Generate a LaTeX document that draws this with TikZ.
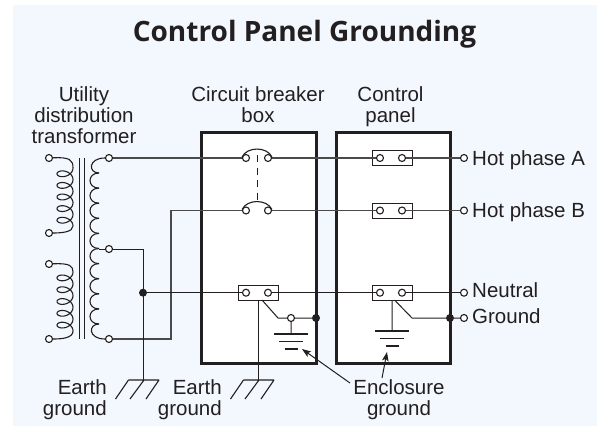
\documentclass[tikz,border=0pt]{standalone}
\usepackage{fontspec}
\setmainfont{Liberation Sans}
\newfontfamily\titlefont{Open Sans}
\usepackage{tikz}
\usetikzlibrary{arrows.meta}
\definecolor{ink}{HTML}{231F20}
\definecolor{wirecol}{HTML}{4A4A4A}
\definecolor{panelbg}{HTML}{F2F8FD}
\begin{document}
\begin{tikzpicture}[x=1pt,y=-1pt,line cap=butt,
    box/.style={draw=ink,fill=white,line width=3pt,inner sep=0pt},
    strip/.style={draw=ink,fill=white,line width=1pt,inner sep=0pt,minimum width=40pt,minimum height=15pt},
    term/.style={circle,draw=ink,fill=white,line width=1.1pt,inner sep=0pt,minimum size=7pt},
    dot/.style={circle,fill=ink,inner sep=0pt,minimum size=8pt},
    wire/.style={draw=wirecol,line width=1.3pt},
    thin wire/.style={draw=ink,line width=1pt},
    lbl/.style={font=\fontsize{20.5}{21}\selectfont,text=ink,inner sep=0pt,align=center}]
  \useasboundingbox (0,0) rectangle (605,426);
  \fill[panelbg] (13,5) rectangle (597,426);
  \node[font=\titlefont\bfseries\fontsize{28}{30}\selectfont,text=ink,inner sep=0pt,anchor=base](title)at(304.5,41.7){Control Panel Grounding};
  \node[lbl](utilLbl)at(84,115.5){Utility\\distribution\\transformer};
  \node[lbl](brkLbl)at(258,105){Circuit breaker\\box};
  \node[lbl](panLbl)at(390.5,107){Control\\panel};
  \node[lbl,align=right,anchor=east](earthLblA)at(107,400){Earth\\ground};
  \node[lbl,align=right,anchor=east](earthLblB)at(222,400){Earth\\ground};
  \node[lbl](encLbl)at(399,400){Enclosure\\ground};
  \node[box,minimum width=115pt,minimum height=231pt](brk)at(258.5,247.5){};
  \node[box,minimum width=114pt,minimum height=231pt](pan)at(393,247.5){};
  % transformer
  \draw[ink,line width=1pt] (79.5,158) -- (79.5,339) (84.5,158) -- (84.5,339);
  \foreach \n/\y in {tPa/158,tPb/233,tPc/264,tPd/339}
    \node[term](\n)at(49,\y){};
  \foreach \n/\y in {tSa/158,tSb/249,tSc/339}
    \node[term](\n)at(109,\y){};
  \draw[ink,line width=1.1pt] (tPa) .. controls (70,157) and (73,160) .. (73,168)
    -- plot[smooth,domain=0:1800,samples=140] ({65+8*cos(\x)},{168+0.03222*\x+5.5*sin(\x)})
    .. controls (73,232) and (62,233) .. (tPb);
  \draw[ink,line width=1.1pt] (tPc) .. controls (70,263) and (73,266) .. (73,272)
    -- plot[smooth,domain=0:1800,samples=140] ({65+8*cos(\x)},{272+0.03278*\x+5.5*sin(\x)})
    .. controls (73,338) and (62,339) .. (tPd);
  \draw[ink,line width=1.1pt] (tSa) .. controls (88,158) and (88,173) .. (99,173);
  \foreach \k in {0,...,9}
    \draw[ink,line width=1.1pt] (99,173+15.1*\k) .. controls (87,173+15.1*\k) and (87,188.1+15.1*\k) .. (99,188.1+15.1*\k);
  \draw[ink,line width=1.1pt] (99,324) .. controls (88,324) and (88,339) .. (tSc);
  \coordinate(tapS)at(99,249);
  \draw[ink,line width=1pt] (tapS) -- (tSb);
  % breakers and strips
  \foreach \n/\y in {A/158,B/210.5}{
    \node[term](brk\n l)at(246,\y){};
    \node[term](brk\n r)at(268,\y){};
    \draw[ink,line width=1.1pt] (brk\n l.165) to[out=65,in=115] (brk\n r.15);
    \node[strip](pan\n)at(392,\y){};
    \node[term](pan\n l)at(380,\y){};
    \node[term](pan\n r)at(402,\y){};
    \node[term](hot\n)at(464,\y){};
  }
  \node[strip](brkN)at(258,292.7){};
  \node[term](brkNl)at(246,292.7){};
  \node[term](brkNr)at(268,292.7){};
  \node[strip](panN)at(392,292.7){};
  \node[term](panNl)at(380,292.7){};
  \node[term](panNr)at(402,292.7){};
  \node[term](hotN)at(464,292.7){};
  \node[term](gndT)at(464,318){};
  \node[term](encT)at(291,318){};
  \node[dot](jn)at(143,292.7){};
  \node[dot](dotA)at(316,318){};
  \node[dot](dotB)at(450,318){};
  \coordinate(armA)at(257,155);
  \coordinate(armB)at(257,202);
  \draw[ink,line width=1pt,dash pattern=on 7pt off 5.5pt] (armA) -- (armB);
  % wires
  \draw[wire] (tSa) -- (brkAl) (brkAr) -- (panAl) (panAr) -- (hotA);
  \coordinate(rise)at(171,210.5);
  \draw[wire] (tSc) -| (rise) -- (brkBl) (brkBr) -- (panBl) (panBr) -- (hotB);
  \coordinate(earthA)at(143,380);
  \coordinate(earthB)at(258,380);
  \draw[thin wire] (tSb) -| (earthA);
  \draw[thin wire] (jn) -- (brkNl) (brkNr) -- (panNl) (panNr) -- (hotN);
  \draw[thin wire] (brkN.south) -- (earthB);
  \coordinate(encA)at(291,334);
  \coordinate(encB)at(392,331);
  \coordinate(kneeA)at(262,300);
  \coordinate(bendA)at(278,318);
  \coordinate(kneeB)at(394.5,300);
  \coordinate(bendB)at(412,318);
  \draw[thin wire] (kneeA) -- (bendA) -- (encT) (encT) -- (dotA) (encT) -- (encA);
  \draw[thin wire] (panN.south) -- (encB) (kneeB) -- (bendB) -- (dotB) -- (gndT);
  % grounds
  \foreach \n in {earthA,earthB}
    \draw[shift={(\n)},ink,line width=1.1pt] (-14.5,0) -- (16,0) (-14.5,0) -- (-27.5,19) (1,0) -- (-13,19) (16,0) -- (3,19);
  \foreach \n in {encA,encB}
    \draw[shift={(\n)},ink,line width=1.1pt] (-17,0) -- (17,0) (-12,7.5) -- (12,7.5) (-6.5,15) -- (6.5,15);
  % arrows
  \coordinate(arrA)at(350,383);
  \coordinate(tipA)at(302,349);
  \coordinate(arrB)at(382,378);
  \coordinate(tipB)at(387,352);
  \draw[-{Stealth[length=9pt,width=6.5pt,inset=2pt]},ink,line width=1pt] (arrA) -- (tipA);
  \draw[-{Stealth[length=9pt,width=6.5pt,inset=2pt]},ink,line width=1pt] (arrB) -- (tipB);
  % labels on the right
  \node[lbl,anchor=base west](lblA)at(472,165){Hot phase A};
  \node[lbl,anchor=base west](lblB)at(472,217.5){Hot phase B};
  \node[lbl,anchor=base west](lblN)at(472,297.7){Neutral};
  \node[lbl,anchor=base west](lblG)at(472,323){Ground};
\end{tikzpicture}
\end{document}
